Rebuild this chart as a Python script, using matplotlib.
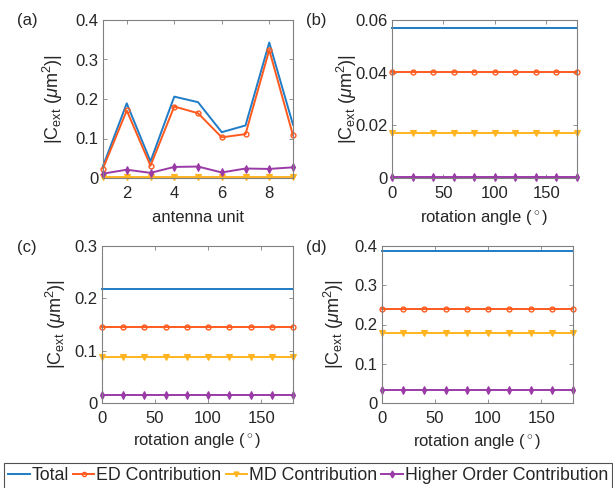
import matplotlib
matplotlib.use("Agg")
import matplotlib.pyplot as plt
from matplotlib.lines import Line2D
import numpy as np

plt.rcParams['font.family'] = ['Liberation Sans', 'DejaVu Sans']
plt.rcParams['mathtext.fontset'] = 'custom'
plt.rcParams['mathtext.rm'] = 'Liberation Sans'
plt.rcParams['mathtext.it'] = 'Liberation Sans:italic'

# ---- data ----
units = [1, 2, 3, 4, 5, 6, 7, 8, 9]
a_total = [0.030, 0.189, 0.042, 0.206, 0.192, 0.116, 0.133, 0.343, 0.135]
a_ed = [0.024, 0.171, 0.031, 0.181, 0.164, 0.103, 0.111, 0.324, 0.108]
a_md = [0.002, 0.002, 0.002, 0.002, 0.002, 0.002, 0.002, 0.002, 0.002]
a_ho = [0.011, 0.021, 0.013, 0.028, 0.029, 0.014, 0.024, 0.023, 0.027]

angles = [0, 20, 40, 60, 80, 100, 120, 140, 160, 180]
b_vals = {'total': 0.0568, 'ed': 0.0403, 'md': 0.0171, 'ho': 0.0004}
c_vals = {'total': 0.2185, 'ed': 0.1446, 'md': 0.0879, 'ho': 0.0146}
d_vals = {'total': 0.3864, 'ed': 0.2403, 'md': 0.1783, 'ho': 0.0331}

labels = ['Total', 'ED Contribution', 'MD Contribution', 'Higher Order Contribution']
panel_labels = ['(a)', '(b)', '(c)', '(d)']

C_TOT = '#1f7cc6'
C_ED = '#ff5a1e'
C_MD = '#ffb420'
C_HO = '#9a3aa6'

fig = plt.figure(figsize=(6.13, 4.88), dpi=100)
W, H = 613, 488

def add_ax(l, t, r, b):
    return fig.add_axes([l / W, (H - b) / H, (r - l) / W, (b - t) / H])

axes = [add_ax(103, 20, 293, 178), add_ax(392, 20, 577, 178),
        add_ax(102, 246, 293, 403), add_ax(382, 246, 573, 403)]

ylabel = r'|C$_{\mathrm{ext}}$ ($\mathit{\mu}$m$^2$)|'
FS = 12
TXT = '#262626'

def style(ax):
    for s in ax.spines.values():
        s.set_color('#808080')
        s.set_linewidth(0.8)
    ax.tick_params(direction='in', top=True, right=True, length=3, width=0.6,
                   color='#808080', labelsize=FS, labelcolor=TXT)
    ax.tick_params(axis='x', pad=6)
    ax.tick_params(axis='y', pad=3)

def plot_series(ax, x, tot, ed, md, ho):
    ax.plot(x, tot, color=C_TOT, lw=1.4, clip_on=False)
    ax.plot(x, ed, color=C_ED, lw=1.4, marker='o', ms=3.5, mfc='none', mew=1.0, clip_on=False)
    ax.plot(x, md, color=C_MD, lw=1.4, marker='v', ms=4, mfc=C_MD, mew=0.8, clip_on=False)
    ax.plot(x, ho, color=C_HO, lw=1.4, marker='d', ms=4, mfc=C_HO, mew=0.8, clip_on=False)

def fmt(v):
    return '0' if v == 0 else ('%g' % v)

# (a)
ax = axes[0]
plot_series(ax, units, a_total, a_ed, a_md, a_ho)
ax.set_xlim(1, 9)
ax.set_ylim(0, 0.4)
ax.set_xticks([2, 4, 6, 8])
yt = [0, 0.1, 0.2, 0.3, 0.4]
ax.set_yticks(yt)
ax.set_yticklabels([fmt(v) for v in yt])
ax.set_xlabel('antenna unit', fontsize=FS, color=TXT)

for ax, vals, ymax, yt in [(axes[1], b_vals, 0.06, [0, 0.02, 0.04, 0.06]),
                           (axes[2], c_vals, 0.3, [0, 0.1, 0.2, 0.3]),
                           (axes[3], d_vals, 0.4, [0, 0.1, 0.2, 0.3, 0.4])]:
    n = len(angles)
    plot_series(ax, angles, [vals['total']] * n, [vals['ed']] * n,
                [vals['md']] * n, [vals['ho']] * n)
    ax.set_xlim(0, 180)
    ax.set_ylim(0, ymax)
    ax.set_xticks([0, 50, 100, 150])
    ax.set_yticks(yt)
    ax.set_yticklabels([fmt(v) for v in yt])
    ax.set_xlabel(r'rotation angle ($\,^{\circ}\,$)', fontsize=FS, color=TXT)

ylab_x = [-0.265, -0.245, -0.24, -0.25]
xlab_y = [-0.247, -0.247, -0.236, -0.248]
for ax, yx, xy in zip(axes, ylab_x, xlab_y):
    style(ax)
    ax.set_ylabel(ylabel, fontsize=13, color=TXT)
    ax.yaxis.label.set_va('center')
    ax.yaxis.set_label_coords(yx, 0.5)
    ax.xaxis.label.set_va('center')
    ax.xaxis.set_label_coords(0.5, xy)

# panel labels
for lab, (x, y) in zip(panel_labels, [(17, 20), (306, 20), (17, 247), (306, 247)]):
    fig.text(x / W, 1 - y / H, lab, fontsize=FS, color=TXT, va='center', ha='left')

handles = [Line2D([], [], color=C_TOT, lw=1.4),
           Line2D([], [], color=C_ED, lw=1.4, marker='o', ms=3, mfc='none'),
           Line2D([], [], color=C_MD, lw=1.4, marker='v', ms=3.5, mfc=C_MD),
           Line2D([], [], color=C_HO, lw=1.4, marker='d', ms=3.5, mfc=C_HO)]
leg = fig.legend(handles, labels, loc='center', bbox_to_anchor=(308 / W, 1 - 476 / H),
                 ncol=4, fontsize=12.8, frameon=True, fancybox=False, handlelength=1.2,
                 handletextpad=0.1, columnspacing=0.25, borderpad=0.25, borderaxespad=0)
leg.get_frame().set_edgecolor(TXT)
leg.get_frame().set_linewidth(0.8)
for t in leg.get_texts():
    t.set_color(TXT)

fig.savefig('out.png', dpi=100)
